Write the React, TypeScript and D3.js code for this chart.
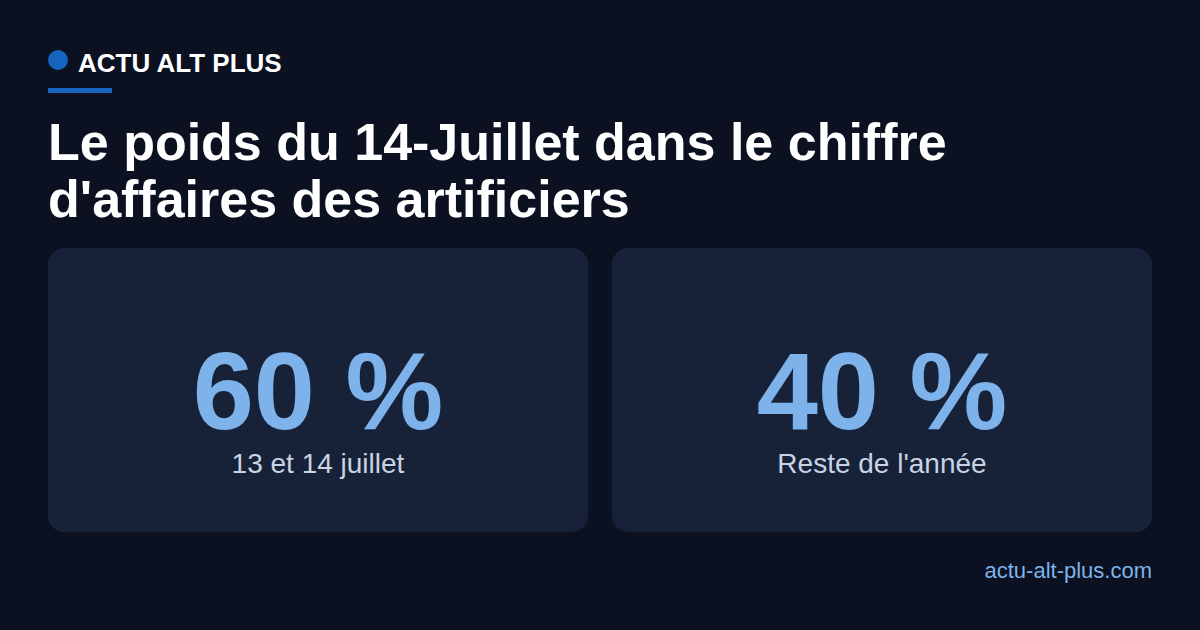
import { useEffect, useRef } from 'react';
import * as d3 from 'd3';

const BRAND = 'ACTU ALT PLUS';
const TITLE_LINES = ['Le poids du 14-Juillet dans le chiffre', "d'affaires des artificiers"];
const SHARE_VALUES = [60, 40];
const SHARE_LABELS = ['13 et 14 juillet', "Reste de l'année"];
const SOURCE = 'actu-alt-plus.com';

const W = 1200;
const H = 630;
const PAD = 48;
const FONT = '"Liberation Sans", Arial, Helvetica, sans-serif';

const BG = '#0b1120';
const CARD_BG = '#172238';
const ACCENT = '#1565c0';
const NUMBER_COLOR = '#7db3ea';
const LABEL_COLOR = '#c8d3e3';

export default function App() {
  const ref = useRef<SVGSVGElement | null>(null);

  useEffect(() => {
    if (!ref.current) return;
    const svg = d3.select(ref.current);
    svg.selectAll('*').remove();

    svg.append('rect').attr('width', W).attr('height', H).attr('fill', BG);

    // brand header
    svg.append('circle').attr('cx', 58).attr('cy', 60).attr('r', 10).attr('fill', ACCENT);
    svg.append('text')
      .attr('x', 78)
      .attr('y', 72)
      .attr('fill', '#ffffff')
      .attr('font-family', FONT)
      .attr('font-weight', 700)
      .attr('font-size', 26)
      .text(BRAND);
    svg.append('rect').attr('x', PAD).attr('y', 88).attr('width', 64).attr('height', 5).attr('fill', ACCENT);

    // title
    const title = svg.append('text')
      .attr('fill', '#ffffff')
      .attr('font-family', FONT)
      .attr('font-weight', 700)
      .attr('font-size', 52);
    TITLE_LINES.forEach((line, i) => {
      title.append('tspan').attr('x', PAD).attr('y', 160 + i * 57).text(line);
    });

    // cards
    const keys = SHARE_LABELS.map((_, i) => String(i));
    const x = d3.scaleBand<string>().domain(keys).range([PAD, W - PAD]).paddingInner(24 / 564);
    const cardTop = 248;
    const cardH = 284;

    const cards = svg.append('g')
      .selectAll('g')
      .data(SHARE_VALUES)
      .join('g')
      .attr('transform', (_, i) => `translate(${x(String(i))},${cardTop})`);

    cards.append('rect')
      .attr('width', x.bandwidth())
      .attr('height', cardH)
      .attr('rx', 16)
      .attr('fill', CARD_BG);

    cards.append('text')
      .attr('x', x.bandwidth() / 2)
      .attr('y', 429 - cardTop)
      .attr('text-anchor', 'middle')
      .attr('fill', NUMBER_COLOR)
      .attr('font-family', FONT)
      .attr('font-weight', 700)
      .attr('font-size', 110)
      .text((d) => `${d} %`);

    cards.append('text')
      .attr('x', x.bandwidth() / 2)
      .attr('y', 473 - cardTop)
      .attr('text-anchor', 'middle')
      .attr('fill', LABEL_COLOR)
      .attr('font-family', FONT)
      .attr('font-size', 28)
      .text((_, i) => SHARE_LABELS[i]);

    // source
    svg.append('text')
      .attr('x', W - PAD)
      .attr('y', 578)
      .attr('text-anchor', 'end')
      .attr('fill', NUMBER_COLOR)
      .attr('font-family', FONT)
      .attr('font-size', 22)
      .text(SOURCE);
  }, []);

  return (
    <svg
      ref={ref}
      width={W}
      height={H}
      viewBox={`0 0 ${W} ${H}`}
      style={{ position: 'absolute', top: 0, left: 0, display: 'block' }}
    />
  );
}
